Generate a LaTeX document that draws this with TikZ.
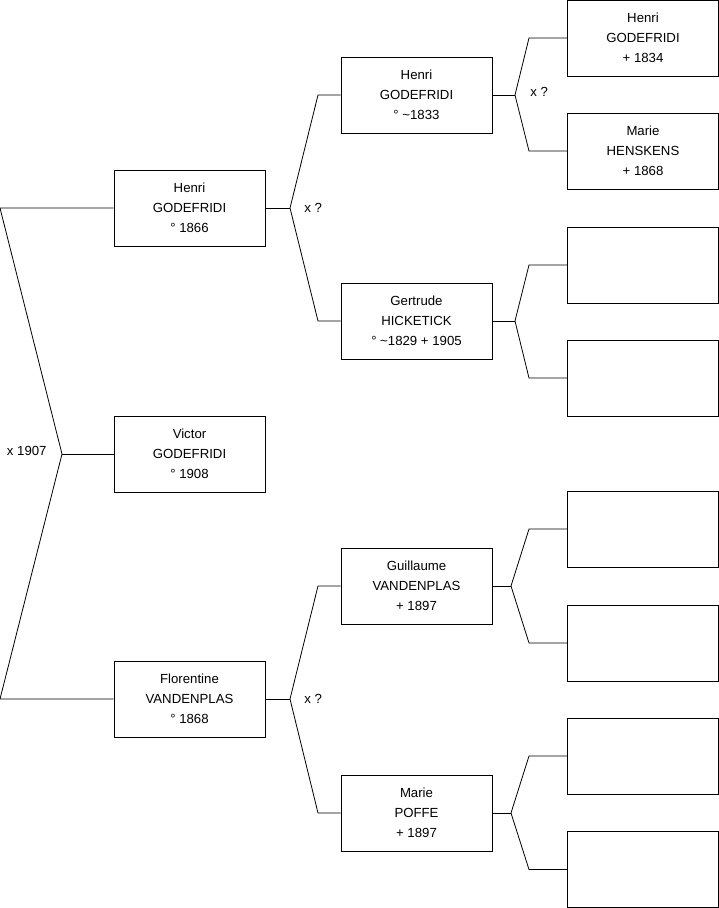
\documentclass[tikz,border=0pt]{standalone}
\usepackage{fontspec}
\setmainfont{Liberation Sans}

\begin{document}
\begin{tikzpicture}[x=1pt, y=-1pt, line width=0.8pt,
    person/.style={draw, minimum width=151pt, minimum height=76pt, inner sep=0pt, align=center, font=\fontsize{13.2}{20}\selectfont},
    union/.style={anchor=west, inner sep=0pt, font=\fontsize{13.2}{15}\selectfont}]

    \useasboundingbox (0,0) rectangle (719,908);

    % Victor and his parents
    \node[person] (victor) at (189.5,454) {Victor\\GODEFRIDI\\° 1908};
    \node[person] (henri) at (189.5,208) {Henri\\GODEFRIDI\\° 1866};
    \node[person] (florentine) at (189.5,699) {Florentine\\VANDENPLAS\\° 1868};

    \coordinate (m0) at (62,454);
    \coordinate (c0a) at (0,208);
    \coordinate (c0b) at (0,699);
    \draw (victor.west) -- (m0);
    \draw (m0) -- (c0a) -- (henri.west);
    \draw (m0) -- (c0b) -- (florentine.west);
    \node[union, anchor=east] (u0) at (47,451) {x 1907};

    % parents of Henri
    \node[person] (henri2) at (416.5,95) {Henri\\GODEFRIDI\\° \textasciitilde 1833};
    \node[person] (gertrude) at (416.5,321) {Gertrude\\HICKETICK\\° \textasciitilde 1829 + 1905};

    \coordinate (m1) at (290,208);
    \coordinate (c1a) at (318,95);
    \coordinate (c1b) at (318,321);
    \draw (henri.east) -- (m1);
    \draw (m1) -- (c1a) -- (henri2.west);
    \draw (m1) -- (c1b) -- (gertrude.west);
    \node[union] (u1) at (304,208) {x ?};

    % parents of Florentine
    \node[person] (guillaume) at (416.5,586) {Guillaume\\VANDENPLAS\\+ 1897};
    \node[person] (marie2) at (416.5,813) {Marie\\POFFE\\+ 1897};

    \coordinate (m2) at (290,699);
    \coordinate (c2a) at (318,586);
    \coordinate (c2b) at (318,813);
    \draw (florentine.east) -- (m2);
    \draw (m2) -- (c2a) -- (guillaume.west);
    \draw (m2) -- (c2b) -- (marie2.west);
    \node[union] (u2) at (304,699) {x ?};

    % parents of Henri (~1833)
    \node[person] (henri3) at (643,38) {Henri\\GODEFRIDI\\+ 1834};
    \node[person] (marie3) at (643,151) {Marie\\HENSKENS\\+ 1868};

    \coordinate (m3) at (515,95);
    \coordinate (c3a) at (529,38);
    \coordinate (c3b) at (529,151);
    \draw (henri2.east) -- (m3);
    \draw (m3) -- (c3a) -- (henri3.west);
    \draw (m3) -- (c3b) -- (marie3.west);
    \node[union] (u3) at (530,92) {x ?};

    % parents of Gertrude
    \node[person] (g1) at (643,265) {};
    \node[person] (g2) at (643,378) {};

    \coordinate (m4) at (515,321);
    \coordinate (c4a) at (529,265);
    \coordinate (c4b) at (529,378);
    \draw (gertrude.east) -- (m4);
    \draw (m4) -- (c4a) -- (g1.west);
    \draw (m4) -- (c4b) -- (g2.west);

    % parents of Guillaume
    \node[person] (v1) at (643,529) {};
    \node[person] (v2) at (643,643) {};

    \coordinate (m5) at (511,586);
    \coordinate (c5a) at (529,529);
    \coordinate (c5b) at (529,643);
    \draw (guillaume.east) -- (m5);
    \draw (m5) -- (c5a) -- (v1.west);
    \draw (m5) -- (c5b) -- (v2.west);

    % parents of Marie
    \node[person] (p1) at (643,756) {};
    \node[person] (p2) at (643,869.5) {};

    \coordinate (m6) at (511,813);
    \coordinate (c6a) at (529,756);
    \coordinate (c6b) at (529,869.5);
    \draw (marie2.east) -- (m6);
    \draw (m6) -- (c6a) -- (p1.west);
    \draw (m6) -- (c6b) -- (p2.west);

\end{tikzpicture}
\end{document}
